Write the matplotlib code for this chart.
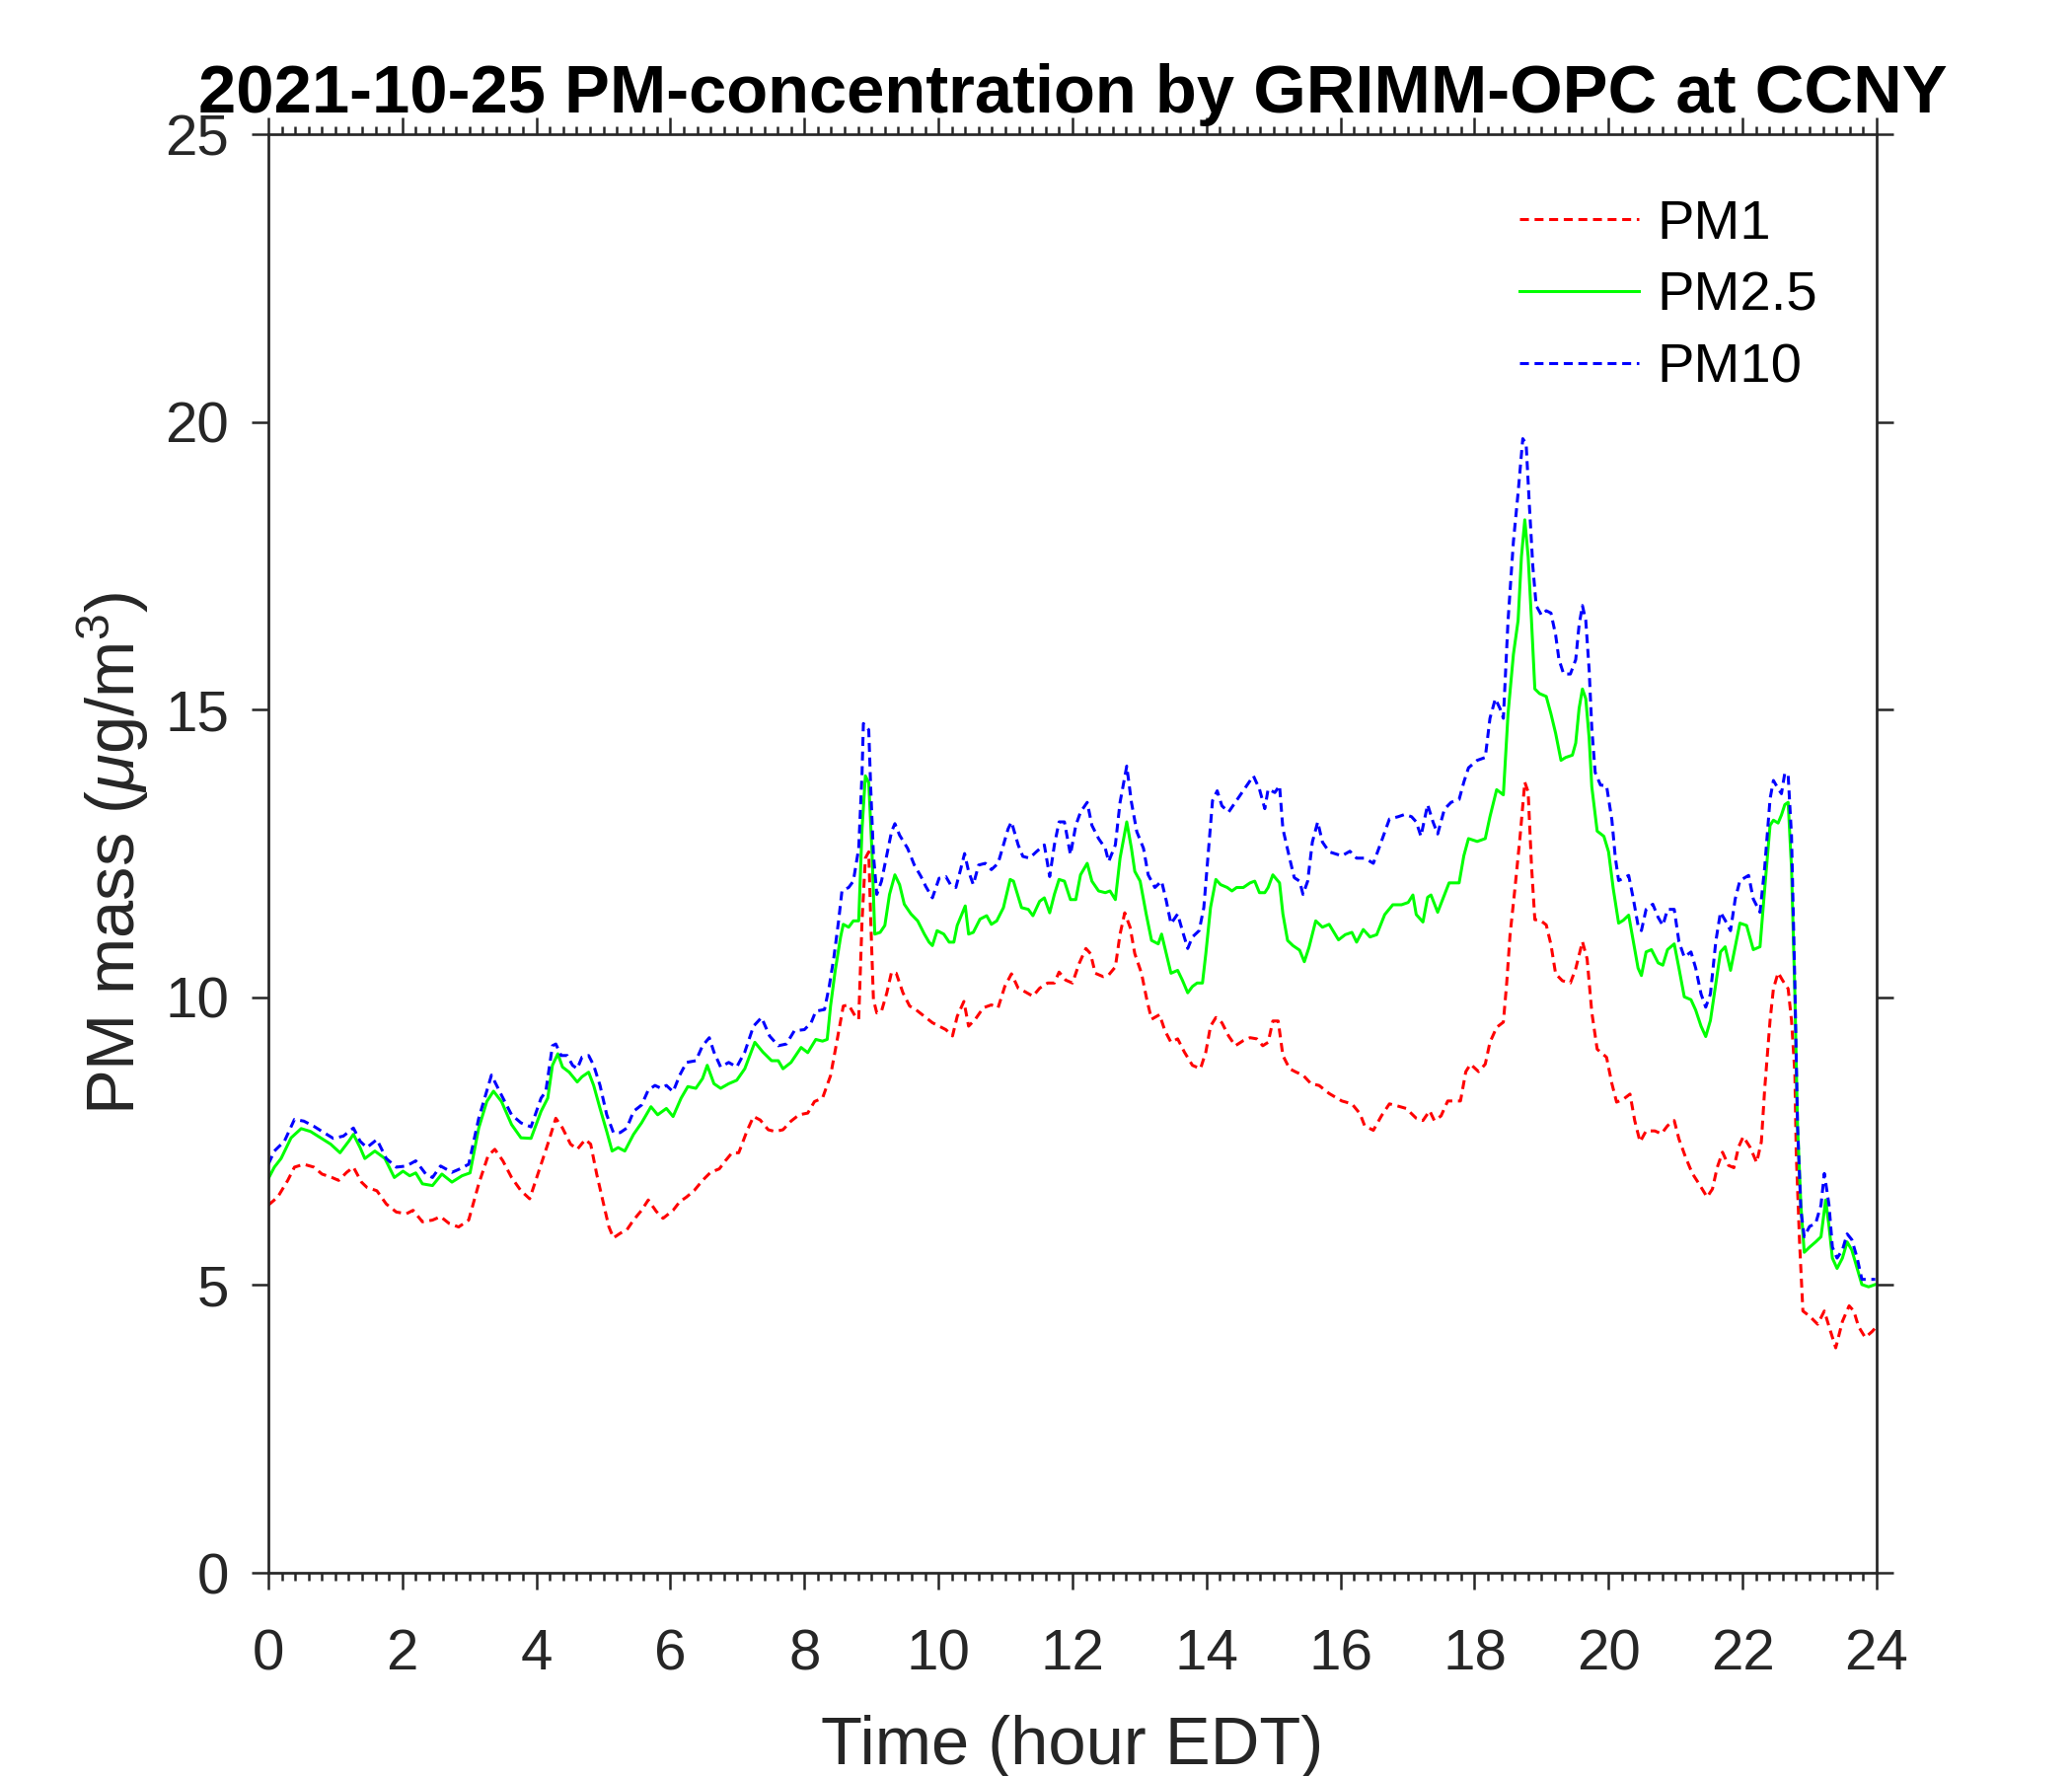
import matplotlib
matplotlib.use("Agg")
import matplotlib.pyplot as plt
from matplotlib.ticker import MultipleLocator

plt.rcParams['font.family'] = ['Liberation Sans', 'DejaVu Sans']
plt.rcParams['mathtext.fontset'] = 'custom'
plt.rcParams['mathtext.rm'] = 'Liberation Sans'
plt.rcParams['mathtext.it'] = 'Liberation Sans:italic'

# values (hour EDT, ug/m3)
pm1_t = [0, 0.14, 0.29, 0.39, 0.53, 0.68, 0.8, 0.95, 1.05, 1.17, 1.27, 1.39, 1.47, 1.62, 1.76, 1.91,
         2.06, 2.16, 2.3, 2.45, 2.57, 2.7, 2.84, 2.99, 3.14, 3.28, 3.38, 3.5, 3.63, 3.77, 3.9,
         4.07, 4.17, 4.29, 4.39, 4.51, 4.61, 4.73, 4.81, 4.9, 5.0, 5.08, 5.15, 5.25, 5.35, 5.45,
         5.57, 5.67, 5.79, 5.89, 6.04, 6.14, 6.24, 6.36, 6.48, 6.6, 6.73, 6.82, 6.92, 7.02, 7.14,
         7.24, 7.34, 7.46, 7.56, 7.68, 7.8, 7.92, 8.05, 8.15, 8.27, 8.39, 8.49, 8.58, 8.66, 8.76,
         8.81, 8.86, 8.91, 8.96, 8.99, 9.03, 9.08, 9.15, 9.23, 9.3, 9.37, 9.47, 9.57, 9.66, 9.79,
         9.91, 10.01, 10.11, 10.21, 10.28, 10.38, 10.45, 10.55, 10.67, 10.79, 10.89, 10.99, 11.09,
         11.19, 11.29, 11.41, 11.51, 11.63, 11.73, 11.8, 11.9, 12.0, 12.1, 12.2, 12.27, 12.34,
         12.46, 12.54, 12.64, 12.71, 12.78, 12.86, 12.93, 13.03, 13.11, 13.18, 13.3, 13.38, 13.47,
         13.57, 13.67, 13.79, 13.91, 13.99, 14.06, 14.14, 14.23, 14.33, 14.43, 14.55, 14.65, 14.75,
         14.84, 14.92, 14.99, 15.07, 15.14, 15.24, 15.34, 15.44, 15.56, 15.68, 15.83, 16.02, 16.17,
         16.29, 16.36, 16.49, 16.61, 16.73, 16.86, 16.98, 17.13, 17.23, 17.33, 17.4, 17.5, 17.6,
         17.72, 17.79, 17.87, 17.94, 18.06, 18.16, 18.23, 18.33, 18.43, 18.48, 18.53, 18.6, 18.68,
         18.75, 18.8, 18.85, 18.9, 18.97, 19.07, 19.14, 19.21, 19.31, 19.43, 19.51, 19.61, 19.68,
         19.75, 19.83, 19.97, 20.05, 20.12, 20.22, 20.32, 20.39, 20.47, 20.56, 20.69, 20.79, 20.88,
         20.98, 21.05, 21.15, 21.25, 21.35, 21.47, 21.55, 21.62, 21.7, 21.79, 21.87, 21.94, 22.01,
         22.11, 22.21, 22.28, 22.33, 22.41, 22.46, 22.53, 22.6, 22.68, 22.73, 22.78, 22.8, 22.85,
         22.9, 23.0, 23.12, 23.22, 23.29, 23.39, 23.49, 23.59, 23.66, 23.73, 23.83, 23.93, 24.0]
pm1_v = [6.39, 6.53, 6.82, 7.05, 7.1, 7.05, 6.93, 6.87, 6.82, 6.96, 7.05, 6.79, 6.7, 6.64, 6.41, 6.27,
         6.24, 6.3, 6.1, 6.13, 6.19, 6.07, 6.01, 6.13, 6.76, 7.25, 7.36, 7.16, 6.87, 6.64, 6.5,
         7.1, 7.45, 7.9, 7.73, 7.45, 7.36, 7.53, 7.45, 6.93, 6.42, 6.02, 5.82, 5.9, 5.96, 6.13,
         6.3, 6.48, 6.28, 6.16, 6.3, 6.45, 6.53, 6.65, 6.82, 6.96, 7.02, 7.16, 7.3, 7.3, 7.67,
         7.93, 7.87, 7.7, 7.67, 7.7, 7.85, 7.96, 7.99, 8.19, 8.25, 8.64, 9.27, 9.85, 9.87, 9.67,
         9.62, 11.33, 12.42, 12.53, 11.33, 9.96, 9.73, 9.76, 10.08, 10.44, 10.42, 10.08, 9.85, 9.79, 9.67,
         9.56, 9.5, 9.44, 9.33, 9.67, 9.93, 9.5, 9.62, 9.82, 9.87, 9.82, 10.19, 10.41,
         10.16, 10.1, 10.02, 10.16, 10.25, 10.25, 10.44, 10.3, 10.25, 10.59, 10.85, 10.76, 10.42,
         10.36, 10.39, 10.53, 11.1, 11.47, 11.22, 10.76, 10.42, 9.96, 9.62, 9.7, 9.42, 9.22,
         9.28, 9.05, 8.82, 8.76, 9.05, 9.5, 9.65, 9.56, 9.33, 9.16, 9.25, 9.3, 9.28,
         9.16, 9.22, 9.59, 9.59, 8.99, 8.76, 8.7, 8.65, 8.5, 8.47, 8.33, 8.2, 8.15,
         7.98, 7.77, 7.69, 7.94, 8.15, 8.11, 8.07, 7.9, 7.86, 8.03, 7.86, 7.94, 8.2,
         8.2, 8.2, 8.71, 8.84, 8.71, 8.84, 9.22, 9.48, 9.57, 10.25, 11.09, 11.86, 12.8,
         13.74, 13.57, 12.29, 11.35, 11.35, 11.26, 10.92, 10.41, 10.29, 10.25, 10.5, 10.97, 10.67,
         9.74, 9.1, 8.96, 8.5, 8.18, 8.23, 8.32, 7.86, 7.49, 7.68, 7.68, 7.63, 7.77,
         7.86, 7.54, 7.22, 6.94, 6.76, 6.53, 6.67, 7.04, 7.31, 7.08, 7.04, 7.4, 7.58,
         7.4, 7.13, 7.49, 8.41, 9.6, 10.15, 10.43, 10.29, 10.15, 9.6, 8.68, 7.31, 5.75,
         4.55, 4.46, 4.32, 4.55, 4.28, 3.91, 4.37, 4.64, 4.55, 4.28, 4.09, 4.19, 4.28]

pm25_t = [0, 0.09, 0.19, 0.34, 0.49, 0.63, 0.78, 0.93, 1.07, 1.2, 1.27, 1.37, 1.44, 1.59, 1.74, 1.88,
          2.01, 2.11, 2.2, 2.3, 2.45, 2.59, 2.74, 2.89, 3.01, 3.14, 3.26, 3.36, 3.48, 3.63, 3.77,
          3.92, 4.07, 4.17, 4.24, 4.32, 4.39, 4.49, 4.61, 4.68, 4.78, 4.855, 4.95, 5.05, 5.13,
          5.22, 5.32, 5.45, 5.57, 5.71, 5.81, 5.94, 6.04, 6.16, 6.26, 6.38, 6.48, 6.55, 6.65,
          6.75, 6.87, 6.99, 7.11, 7.26, 7.38, 7.51, 7.61, 7.68, 7.8, 7.95, 8.05, 8.17, 8.27,
          8.34, 8.39, 8.46, 8.54, 8.58, 8.66, 8.73, 8.81, 8.86, 8.91, 8.96, 9.01, 9.05, 9.13,
          9.2, 9.27, 9.35, 9.42, 9.49, 9.59, 9.69, 9.79, 9.86, 9.91, 9.98, 10.08, 10.16, 10.23,
          10.28, 10.35, 10.4, 10.45, 10.52, 10.62, 10.72, 10.79, 10.87, 10.97, 11.07, 11.12,
          11.24, 11.34, 11.41, 11.51, 11.58, 11.66, 11.73, 11.8, 11.88, 11.97, 12.05, 12.12,
          12.22, 12.29, 12.39, 12.49, 12.56, 12.64, 12.71, 12.81, 12.88, 12.93, 13.01, 13.1,
          13.18, 13.28, 13.33, 13.4, 13.47, 13.57, 13.64, 13.72, 13.79, 13.86, 13.94, 13.99,
          14.06, 14.14, 14.21, 14.31, 14.38, 14.45, 14.55, 14.65, 14.72, 14.79, 14.87, 14.92,
          14.99, 15.09, 15.14, 15.21, 15.29, 15.39, 15.46, 15.53, 15.63, 15.73, 15.83, 15.97,
          16.07, 16.17, 16.24, 16.34, 16.44, 16.54, 16.66, 16.78, 16.91, 17.01, 17.08, 17.13,
          17.23, 17.3, 17.35, 17.45, 17.55, 17.62, 17.77, 17.84, 17.91, 18.04, 18.16, 18.23,
          18.33, 18.43, 18.5, 18.58, 18.65, 18.7, 18.75, 18.8, 18.85, 18.9, 18.97, 19.07, 19.14,
          19.21, 19.29, 19.36, 19.46, 19.51, 19.56, 19.61, 19.66, 19.71, 19.75, 19.83, 19.93,
          20.0, 20.07, 20.15, 20.22, 20.3, 20.37, 20.44, 20.49, 20.56, 20.64, 20.74, 20.81,
          20.88, 20.98, 21.05, 21.13, 21.23, 21.3, 21.38, 21.45, 21.52, 21.6, 21.67, 21.74,
          21.82, 21.89, 21.96, 22.06, 22.16, 22.26, 22.33, 22.41, 22.46, 22.53, 22.58, 22.63,
          22.68, 22.73, 22.78, 22.82, 22.87, 22.92, 23.0, 23.09, 23.17, 23.24, 23.29, 23.34,
          23.41, 23.49, 23.56, 23.63, 23.71, 23.78, 23.88, 23.98]
pm25_v = [6.85, 7.05, 7.2, 7.56, 7.72, 7.67, 7.56, 7.45, 7.3, 7.5, 7.62, 7.39, 7.2, 7.33, 7.2, 6.87,
          6.98, 6.9, 6.95, 6.76, 6.73, 6.93, 6.79, 6.9, 6.95, 7.73, 8.19, 8.37, 8.19, 7.79, 7.56,
          7.55, 8.02, 8.25, 8.82, 9.02, 8.79, 8.7, 8.53, 8.62, 8.7, 8.47, 8.07, 7.67, 7.33,
          7.39, 7.33, 7.62, 7.82, 8.1, 7.96, 8.07, 7.93, 8.25, 8.45, 8.42, 8.59, 8.82, 8.5,
          8.42, 8.5, 8.56, 8.76, 9.22, 9.05, 8.9, 8.9, 8.76, 8.87, 9.13, 9.04, 9.27, 9.24,
          9.27, 9.85, 10.47, 11.05, 11.27, 11.22, 11.33, 11.33, 12.93, 13.85, 13.73, 12.48, 11.1, 11.13,
          11.25, 11.79, 12.13, 11.96, 11.62, 11.45, 11.33, 11.1, 10.96, 10.9, 11.16, 11.1, 10.96, 10.96,
          11.25, 11.45, 11.59, 11.1, 11.13, 11.36, 11.42, 11.27, 11.33, 11.56, 12.05, 12.02,
          11.56, 11.53, 11.42, 11.67, 11.73, 11.47, 11.79, 12.05, 12.02, 11.7, 11.7, 12.13,
          12.33, 12.02, 11.85, 11.82, 11.85, 11.7, 12.42, 13.05, 12.59, 12.19, 12.02, 11.45,
          10.99, 10.93, 11.1, 10.76, 10.42, 10.47, 10.3, 10.08, 10.19, 10.25, 10.25, 10.76,
          11.56, 12.05, 11.96, 11.91, 11.85, 11.91, 11.91, 11.99, 12.02, 11.82, 11.82, 11.91,
          12.13, 11.99, 11.45, 10.99, 10.9, 10.82, 10.62, 10.87, 11.33, 11.22, 11.27, 11.0,
          11.09, 11.13, 10.96, 11.18, 11.05, 11.09, 11.44, 11.61, 11.61, 11.65, 11.78, 11.44,
          11.31, 11.74, 11.78, 11.48, 11.78, 11.99, 11.99, 12.46, 12.76, 12.71, 12.76, 13.14,
          13.61, 13.52, 14.93, 15.96, 16.55, 17.66, 18.3, 17.66, 16.55, 15.36, 15.28, 15.23, 14.93,
          14.59, 14.12, 14.17, 14.21, 14.42, 15.02, 15.36, 15.19, 14.51, 13.66, 12.89, 12.8,
          12.53, 11.89, 11.29, 11.34, 11.43, 10.97, 10.51, 10.38, 10.79, 10.83, 10.6, 10.56,
          10.83, 10.93, 10.51, 10.01, 9.96, 9.78, 9.5, 9.32, 9.6, 10.24, 10.79, 10.88,
          10.47, 10.88, 11.29, 11.25, 10.83, 10.88, 11.89, 12.99, 13.08, 13.03, 13.17, 13.35,
          13.39, 12.25, 10.06, 7.77, 6.39, 5.57, 5.66, 5.75, 5.84, 6.48, 6.02, 5.47,
          5.29, 5.47, 5.75, 5.61, 5.29, 5.01, 4.97, 5.01]

pm10_t = [0, 0.09, 0.24, 0.39, 0.53, 0.68, 0.83, 0.97, 1.12, 1.27, 1.37, 1.47, 1.62, 1.76, 1.91, 2.06,
          2.2, 2.35, 2.45, 2.57, 2.74, 2.84, 2.99, 3.14, 3.33, 3.48, 3.63, 3.77, 3.92, 4.07, 4.14,
          4.24, 4.29, 4.37, 4.46, 4.54, 4.61, 4.68, 4.78, 4.855, 4.95, 5.05, 5.15, 5.25, 5.35,
          5.45, 5.57, 5.67, 5.77, 5.86, 5.94, 6.04, 6.14, 6.24, 6.38, 6.48, 6.58, 6.65, 6.75,
          6.87, 6.99, 7.11, 7.24, 7.36, 7.48, 7.61, 7.73, 7.85, 8.0, 8.1, 8.17, 8.3, 8.37, 8.44,
          8.51, 8.56, 8.66, 8.73, 8.81, 8.86, 8.88, 8.96, 8.99, 9.03, 9.08, 9.15, 9.23, 9.3,
          9.35, 9.42, 9.54, 9.64, 9.74, 9.81, 9.91, 10.01, 10.11, 10.18, 10.26, 10.33, 10.39,
          10.45, 10.52, 10.6, 10.7, 10.79, 10.89, 10.97, 11.04, 11.09, 11.19, 11.26, 11.36,
          11.46, 11.58, 11.66, 11.73, 11.8, 11.88, 11.97, 12.05, 12.12, 12.22, 12.29, 12.39,
          12.49, 12.54, 12.64, 12.71, 12.81, 12.88, 12.96, 13.06, 13.13, 13.23, 13.33, 13.4,
          13.47, 13.57, 13.64, 13.72, 13.79, 13.89, 13.96, 14.04, 14.09, 14.16, 14.23, 14.33,
          14.43, 14.53, 14.6, 14.7, 14.79, 14.87, 14.92, 15.02, 15.09, 15.14, 15.24, 15.31,
          15.39, 15.44, 15.51, 15.58, 15.66, 15.73, 15.83, 16.02, 16.14, 16.24, 16.36, 16.49,
          16.61, 16.73, 16.86, 16.96, 17.06, 17.13, 17.2, 17.3, 17.38, 17.45, 17.55, 17.65,
          17.77, 17.84, 17.91, 18.04, 18.16, 18.23, 18.31, 18.38, 18.43, 18.5, 18.58, 18.65,
          18.72, 18.77, 18.82, 18.87, 18.92, 19.0, 19.07, 19.14, 19.21, 19.26, 19.33, 19.43,
          19.51, 19.56, 19.61, 19.66, 19.71, 19.75, 19.8, 19.88, 19.97, 20.05, 20.1, 20.15,
          20.22, 20.3, 20.37, 20.44, 20.49, 20.56, 20.66, 20.74, 20.81, 20.88, 20.98, 21.05,
          21.13, 21.23, 21.3, 21.38, 21.45, 21.52, 21.6, 21.67, 21.74, 21.82, 21.89, 21.96,
          22.09, 22.16, 22.26, 22.33, 22.41, 22.46, 22.53, 22.58, 22.63, 22.68, 22.73, 22.78,
          22.82, 22.87, 22.92, 23.0, 23.09, 23.17, 23.22, 23.29, 23.34, 23.41, 23.49, 23.56,
          23.63, 23.71, 23.78, 23.88, 23.98]
pm10_v = [7.1, 7.33, 7.5, 7.88, 7.85, 7.76, 7.65, 7.55, 7.59, 7.73, 7.5, 7.39, 7.53, 7.2, 7.05, 7.07,
          7.16, 6.93, 6.87, 7.07, 6.96, 7.01, 7.1, 7.9, 8.65, 8.3, 7.96, 7.82, 7.75, 8.25, 8.36,
          9.16, 9.19, 8.99, 8.99, 8.82, 8.76, 8.96, 8.99, 8.82, 8.47, 7.96, 7.65, 7.65, 7.73,
          8.02, 8.13, 8.39, 8.47, 8.42, 8.47, 8.36, 8.65, 8.87, 8.9, 9.16, 9.3, 9.05, 8.79,
          8.87, 8.79, 9.05, 9.5, 9.65, 9.33, 9.16, 9.19, 9.42, 9.44, 9.56, 9.76, 9.79, 10.19, 10.7,
          11.33, 11.85, 11.91, 12.02, 12.59, 13.9, 14.76, 14.65, 13.62, 12.48, 11.79, 12.02, 12.48, 12.88,
          13.02, 12.82, 12.59, 12.3, 12.1, 11.93, 11.73, 12.07, 12.1, 11.96, 11.91, 12.22, 12.5,
          12.19, 11.96, 12.3, 12.33, 12.22, 12.33, 12.65, 12.93, 13.05, 12.65, 12.45, 12.42,
          12.53, 12.65, 12.1, 12.65, 13.05, 13.05, 12.48, 12.99, 13.22, 13.39, 12.99, 12.76,
          12.59, 12.36, 12.65, 13.39, 14.02, 13.39, 12.88, 12.59, 12.13, 11.91, 12.02, 11.68,
          11.28, 11.45, 11.16, 10.85, 11.05, 11.16, 11.56, 12.7, 13.42, 13.59, 13.33, 13.22,
          13.39, 13.56, 13.68, 13.85, 13.62, 13.28, 13.62, 13.56, 13.68, 12.93, 12.42, 12.08,
          12.02, 11.79, 12.02, 12.7, 13.05, 12.7, 12.53, 12.46, 12.54, 12.42, 12.42, 12.33,
          12.71, 13.1, 13.14, 13.18, 13.14, 13.05, 12.8, 13.35, 13.05, 12.84, 13.27, 13.39,
          13.44, 13.74, 13.99, 14.12, 14.17, 14.85, 15.19, 15.02, 14.85, 16.55, 17.92, 18.77,
          19.71, 19.62, 18.52, 17.49, 16.81, 16.64, 16.72, 16.68, 16.3, 15.87, 15.62, 15.62,
          15.87, 16.47, 16.81, 16.55, 15.7, 14.68, 13.91, 13.69, 13.68, 13.08, 12.44, 12.03,
          12.07, 12.12, 11.71, 11.25, 11.16, 11.53, 11.62, 11.39, 11.25, 11.53, 11.53, 10.97,
          10.7, 10.79, 10.51, 10.06, 9.83, 10.06, 10.97, 11.48, 11.34, 11.16, 11.71, 12.03,
          12.12, 11.71, 11.48, 12.26, 13.45, 13.77, 13.63, 13.54, 13.9, 13.86, 12.81, 10.24,
          7.77, 6.3, 5.84, 6.02, 6.07, 6.39, 6.94, 6.39, 5.66, 5.47, 5.61, 5.89,
          5.79, 5.47, 5.1, 5.1, 5.1]

x_ticks = list(range(0, 25, 2))
y_ticks = [0, 5, 10, 15, 20, 25]

dark = '#262626'

fig = plt.figure(figsize=(14, 12), dpi=150)
ax = fig.add_axes([0.1295, 0.1144, 0.7762, 0.81])

ax.plot(pm1_t, pm1_v, color='#ff0000', lw=1.45, dashes=(3.0, 1.9), label='PM1')
ax.plot(pm25_t, pm25_v, color='#00ff00', lw=1.45, label='PM2.5')
ax.plot(pm10_t, pm10_v, color='#0000ff', lw=1.45, dashes=(3.0, 1.9), label='PM10')

ax.set_xlim(0, 24)
ax.set_ylim(0, 25)
ax.set_xticks(x_ticks)
ax.set_yticks(y_ticks)
ax.xaxis.set_minor_locator(MultipleLocator(0.2))

for s in ax.spines.values():
    s.set_color(dark)
    s.set_linewidth(1.3)

ax.tick_params(which='both', direction='out', top=True, right=True, color=dark,
               labelcolor=dark, width=1.2, labelsize=28)
ax.tick_params(which='major', length=8)
ax.tick_params(which='minor', length=4)
ax.tick_params(axis='x', which='major', pad=19)
ax.tick_params(axis='y', which='major', pad=11)

ax.set_xlabel('Time (hour EDT)', fontsize=33, color=dark, labelpad=16)
ax.set_ylabel(r'PM mass ($\mu$g/m$^3$)', fontsize=33, color=dark, labelpad=7)
ax.set_title('2021-10-25 PM-concentration by GRIMM-OPC at CCNY', fontsize=33,
             fontweight='bold', y=1.0, pad=10.5)

ax.legend(loc='upper left', bbox_to_anchor=(0.778, 0.955), frameon=False, fontsize=27,
          handlelength=2.15, handletextpad=0.33, labelspacing=0.37, borderpad=0,
          borderaxespad=0)

fig.savefig('out.png', dpi=150)
